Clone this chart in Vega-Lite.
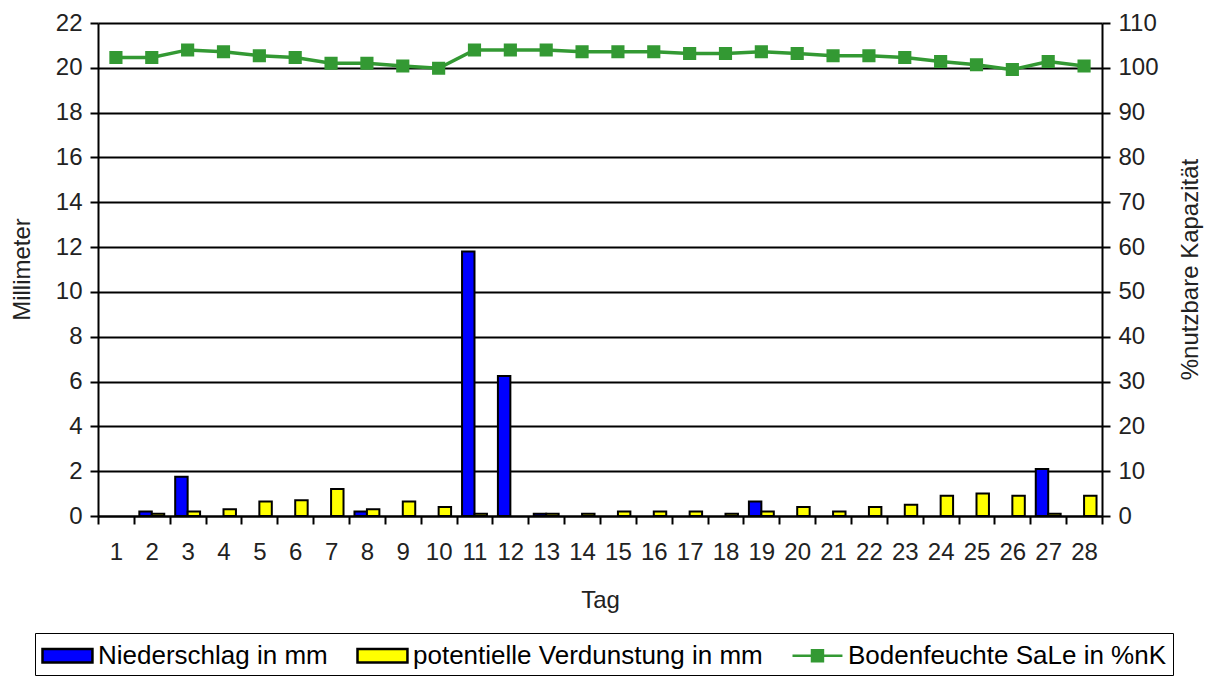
{
  "$schema": "https://vega.github.io/schema/vega-lite/v6.json",
  "width": 1004,
  "height": 493,
  "autosize": {"type": "none"},
  "padding": {"left": 98, "top": 23, "right": 108, "bottom": 161},
  "background": "white",
  "datasets": {
    "mm": [
      {"Tag": 2, "Serie": "Niederschlag in mm", "mm": 0.2},
      {"Tag": 2, "Serie": "potentielle Verdunstung in mm", "mm": 0.1},
      {"Tag": 3, "Serie": "Niederschlag in mm", "mm": 1.75},
      {"Tag": 3, "Serie": "potentielle Verdunstung in mm", "mm": 0.2},
      {"Tag": 4, "Serie": "potentielle Verdunstung in mm", "mm": 0.3},
      {"Tag": 5, "Serie": "potentielle Verdunstung in mm", "mm": 0.65},
      {"Tag": 6, "Serie": "potentielle Verdunstung in mm", "mm": 0.7},
      {"Tag": 7, "Serie": "potentielle Verdunstung in mm", "mm": 1.2},
      {"Tag": 8, "Serie": "Niederschlag in mm", "mm": 0.2},
      {"Tag": 8, "Serie": "potentielle Verdunstung in mm", "mm": 0.3},
      {"Tag": 9, "Serie": "potentielle Verdunstung in mm", "mm": 0.65},
      {"Tag": 10, "Serie": "potentielle Verdunstung in mm", "mm": 0.4},
      {"Tag": 11, "Serie": "Niederschlag in mm", "mm": 11.8},
      {"Tag": 11, "Serie": "potentielle Verdunstung in mm", "mm": 0.1},
      {"Tag": 12, "Serie": "Niederschlag in mm", "mm": 6.25},
      {"Tag": 13, "Serie": "Niederschlag in mm", "mm": 0.1},
      {"Tag": 13, "Serie": "potentielle Verdunstung in mm", "mm": 0.1},
      {"Tag": 14, "Serie": "potentielle Verdunstung in mm", "mm": 0.1},
      {"Tag": 15, "Serie": "potentielle Verdunstung in mm", "mm": 0.2},
      {"Tag": 16, "Serie": "potentielle Verdunstung in mm", "mm": 0.2},
      {"Tag": 17, "Serie": "potentielle Verdunstung in mm", "mm": 0.2},
      {"Tag": 18, "Serie": "potentielle Verdunstung in mm", "mm": 0.1},
      {"Tag": 19, "Serie": "Niederschlag in mm", "mm": 0.65},
      {"Tag": 19, "Serie": "potentielle Verdunstung in mm", "mm": 0.2},
      {"Tag": 20, "Serie": "potentielle Verdunstung in mm", "mm": 0.4},
      {"Tag": 21, "Serie": "potentielle Verdunstung in mm", "mm": 0.2},
      {"Tag": 22, "Serie": "potentielle Verdunstung in mm", "mm": 0.4},
      {"Tag": 23, "Serie": "potentielle Verdunstung in mm", "mm": 0.5},
      {"Tag": 24, "Serie": "potentielle Verdunstung in mm", "mm": 0.9},
      {"Tag": 25, "Serie": "potentielle Verdunstung in mm", "mm": 1.0},
      {"Tag": 26, "Serie": "potentielle Verdunstung in mm", "mm": 0.9},
      {"Tag": 27, "Serie": "Niederschlag in mm", "mm": 2.1},
      {"Tag": 27, "Serie": "potentielle Verdunstung in mm", "mm": 0.1},
      {"Tag": 28, "Serie": "potentielle Verdunstung in mm", "mm": 0.9}
    ],
    "feuchte": [
      {"Tag": 1, "Serie": "Bodenfeuchte SaLe in %nK", "pct": 102.3},
      {"Tag": 2, "Serie": "Bodenfeuchte SaLe in %nK", "pct": 102.3},
      {"Tag": 3, "Serie": "Bodenfeuchte SaLe in %nK", "pct": 104.0},
      {"Tag": 4, "Serie": "Bodenfeuchte SaLe in %nK", "pct": 103.6},
      {"Tag": 5, "Serie": "Bodenfeuchte SaLe in %nK", "pct": 102.7},
      {"Tag": 6, "Serie": "Bodenfeuchte SaLe in %nK", "pct": 102.3},
      {"Tag": 7, "Serie": "Bodenfeuchte SaLe in %nK", "pct": 101.0},
      {"Tag": 8, "Serie": "Bodenfeuchte SaLe in %nK", "pct": 101.0},
      {"Tag": 9, "Serie": "Bodenfeuchte SaLe in %nK", "pct": 100.4},
      {"Tag": 10, "Serie": "Bodenfeuchte SaLe in %nK", "pct": 99.9},
      {"Tag": 11, "Serie": "Bodenfeuchte SaLe in %nK", "pct": 104.0},
      {"Tag": 12, "Serie": "Bodenfeuchte SaLe in %nK", "pct": 104.0},
      {"Tag": 13, "Serie": "Bodenfeuchte SaLe in %nK", "pct": 104.0},
      {"Tag": 14, "Serie": "Bodenfeuchte SaLe in %nK", "pct": 103.6},
      {"Tag": 15, "Serie": "Bodenfeuchte SaLe in %nK", "pct": 103.6},
      {"Tag": 16, "Serie": "Bodenfeuchte SaLe in %nK", "pct": 103.6},
      {"Tag": 17, "Serie": "Bodenfeuchte SaLe in %nK", "pct": 103.2},
      {"Tag": 18, "Serie": "Bodenfeuchte SaLe in %nK", "pct": 103.2},
      {"Tag": 19, "Serie": "Bodenfeuchte SaLe in %nK", "pct": 103.6},
      {"Tag": 20, "Serie": "Bodenfeuchte SaLe in %nK", "pct": 103.2},
      {"Tag": 21, "Serie": "Bodenfeuchte SaLe in %nK", "pct": 102.7},
      {"Tag": 22, "Serie": "Bodenfeuchte SaLe in %nK", "pct": 102.7},
      {"Tag": 23, "Serie": "Bodenfeuchte SaLe in %nK", "pct": 102.3},
      {"Tag": 24, "Serie": "Bodenfeuchte SaLe in %nK", "pct": 101.4},
      {"Tag": 25, "Serie": "Bodenfeuchte SaLe in %nK", "pct": 100.7},
      {"Tag": 26, "Serie": "Bodenfeuchte SaLe in %nK", "pct": 99.6},
      {"Tag": 27, "Serie": "Bodenfeuchte SaLe in %nK", "pct": 101.4},
      {"Tag": 28, "Serie": "Bodenfeuchte SaLe in %nK", "pct": 100.4}
    ]
  },
  "encoding": {
    "x": {
      "field": "Tag",
      "type": "ordinal",
      "scale": {"paddingInner": 0, "paddingOuter": 0},
      "axis": {
        "title": "Tag",
        "labelAngle": 0,
        "tickBand": "extent",
        "tickSize": 8,
        "labelPadding": 16,
        "titleY": 84,
        "titleBaseline": "middle"
      }
    }
  },
  "layer": [
    {
      "data": {"name": "mm"},
      "mark": {"type": "bar", "stroke": "black", "strokeWidth": 2},
      "encoding": {
        "xOffset": {
          "field": "Serie",
          "type": "nominal",
          "scale": {
            "domain": ["Niederschlag in mm", "potentielle Verdunstung in mm"],
            "paddingInner": 0,
            "paddingOuter": 0.44
          }
        },
        "y": {
          "field": "mm",
          "type": "quantitative",
          "scale": {"domain": [0, 22], "nice": false},
          "axis": {
            "title": "Millimeter",
            "values": [0, 2, 4, 6, 8, 10, 12, 14, 16, 18, 20, 22],
            "grid": true,
            "gridColor": "black",
            "gridWidth": 2,
            "gridOpacity": 1,
            "tickSize": 8,
            "labelPadding": 8,
            "titleAngle": -90,
            "titleX": -76,
            "titleY": 246,
            "titleAlign": "center",
            "titleBaseline": "middle"
          }
        },
        "fill": {
          "field": "Serie",
          "type": "nominal",
          "scale": {
            "domain": ["Niederschlag in mm", "potentielle Verdunstung in mm", "Bodenfeuchte SaLe in %nK"],
            "range": ["#0000ff", "#ffff00", "#339933"]
          },
          "legend": {
            "title": null,
            "orient": "none",
            "direction": "horizontal",
            "columns": 3,
            "legendX": -63,
            "legendY": 610,
            "padding": 6,
            "strokeColor": "black",
            "symbolSize": 900,
            "symbolStrokeWidth": 2.5,
            "symbolOpacity": 1,
            "labelFont": "Liberation Sans",
            "labelFontSize": 26,
            "labelColor": "black",
            "labelOffset": 24,
            "labelLimit": 0,
            "columnPadding": 24
          }
        }
      }
    },
    {
      "data": {"name": "feuchte"},
      "mark": {"type": "line", "strokeWidth": 3.5},
      "encoding": {
        "y": {
          "field": "pct",
          "type": "quantitative",
          "scale": {"domain": [0, 110], "nice": false},
          "axis": {
            "orient": "right",
            "title": "%nutzbare Kapazität",
            "values": [0, 10, 20, 30, 40, 50, 60, 70, 80, 90, 100, 110],
            "grid": false,
            "tickSize": 8,
            "labelPadding": 8,
            "titleAngle": -90,
            "titleX": 88,
            "titleY": 246,
            "titleAlign": "center",
            "titleBaseline": "middle"
          }
        },
        "stroke": {
          "field": "Serie",
          "type": "nominal",
          "scale": {
            "domain": ["Niederschlag in mm", "potentielle Verdunstung in mm", "Bodenfeuchte SaLe in %nK"],
            "range": ["black", "black", "#339933"]
          }
        }
      }
    },
    {
      "data": {"name": "feuchte"},
      "mark": {"type": "point", "filled": true, "size": 1300, "strokeWidth": 0, "opacity": 1, "xOffset": -12},
      "encoding": {
        "y": {"field": "pct", "type": "quantitative", "axis": null},
        "fill": {"field": "Serie", "type": "nominal"},
        "shape": {
          "field": "Serie",
          "type": "nominal",
          "scale": {
            "domain": ["Niederschlag in mm", "potentielle Verdunstung in mm", "Bodenfeuchte SaLe in %nK"],
            "range": ["M-1,-0.45H2.33V0.45H-1Z", "M-1,-0.45H2.33V0.45H-1Z", "M-1,0H2.33M0.3,-0.36H1.03V0.36H0.3Z"]
          }
        }
      }
    }
  ],
  "resolve": {"scale": {"y": "independent"}},
  "config": {
    "view": {"stroke": "transparent"},
    "font": "Liberation Sans",
    "axis": {
      "domainColor": "black",
      "domainWidth": 2,
      "tickColor": "black",
      "tickWidth": 2,
      "labelFont": "Liberation Sans",
      "labelFontSize": 24,
      "labelColor": "#222222",
      "titleFont": "Liberation Sans",
      "titleFontSize": 24,
      "titleFontWeight": "normal",
      "titleColor": "#222222"
    }
  }
}
